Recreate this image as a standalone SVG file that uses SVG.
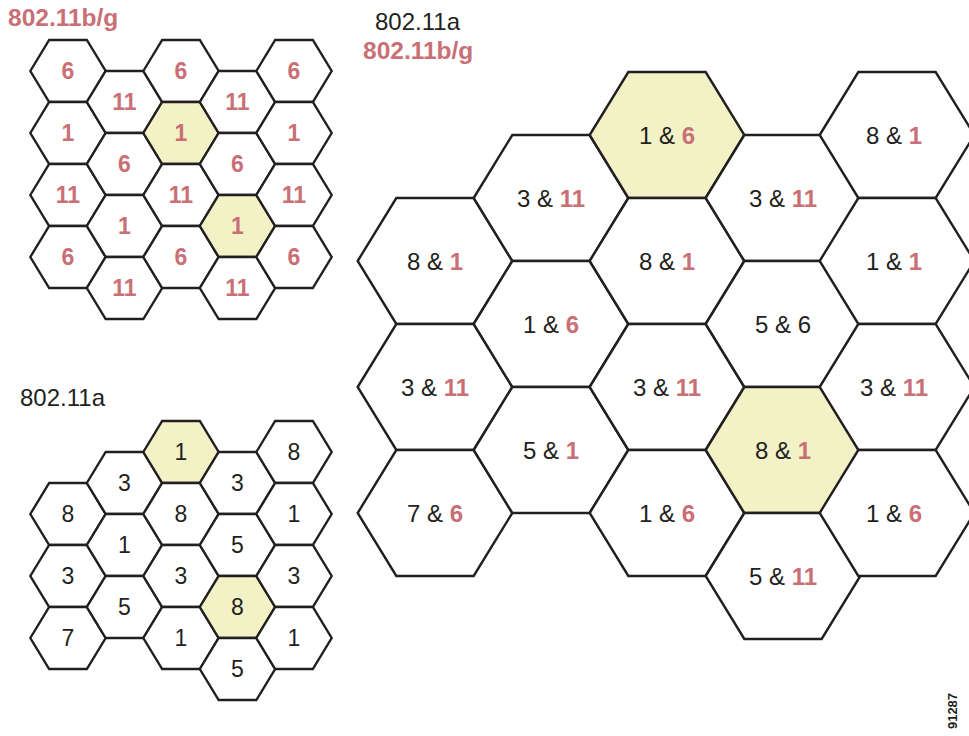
<svg xmlns="http://www.w3.org/2000/svg" xmlns:xlink="http://www.w3.org/1999/xlink" width="969" height="736" viewBox="0 0 969 736">
<style>
.h{fill:#ffffff;stroke:#231f20;stroke-width:2.4;stroke-linejoin:miter}
.y{fill:#f2f2c6}
text{font-family:"Liberation Sans",Arial,sans-serif;text-anchor:middle}
.r{fill:#c96f76;font-weight:bold}
.k{fill:#231f20}
.s{font-size:23px}
.b{font-size:24px}
.t{font-size:24px;text-anchor:start}
</style>
<defs>
<polygon id="hs" points="-37.67,0 -18.83,-31 18.83,-31 37.67,0 18.83,31 -18.83,31"/>
<polygon id="hb" points="-77.33,0 -38.67,-63 38.67,-63 77.33,0 38.67,63 -38.67,63"/>
</defs>
<rect width="969" height="736" fill="#ffffff"/>
<g id="titles">
<text class="t r" x="8" y="26" style="font-size:24.5px">802.11b/g</text>
<text class="t k" x="375" y="30">802.11a</text>
<text class="t r" x="363" y="59" style="font-size:24.5px">802.11b/g</text>
<text class="t k" x="20" y="406">802.11a</text>
<text class="k" x="957" y="711" transform="rotate(-90 957 711)" style="font-size:13px;font-weight:bold">91287</text>
</g>
<g id="grid-bg">
<g id="bg-0-0"><use xlink:href="#hs" class="h" x="68" y="71"/><text class="s r" x="68" y="79">6</text></g>
<g id="bg-0-1"><use xlink:href="#hs" class="h" x="68" y="133"/><text class="s r" x="68" y="141">1</text></g>
<g id="bg-0-2"><use xlink:href="#hs" class="h" x="68" y="195"/><text class="s r" x="68" y="203">11</text></g>
<g id="bg-0-3"><use xlink:href="#hs" class="h" x="68" y="257"/><text class="s r" x="68" y="265">6</text></g>
<g id="bg-1-0"><use xlink:href="#hs" class="h" x="124.5" y="102"/><text class="s r" x="124.5" y="110">11</text></g>
<g id="bg-1-1"><use xlink:href="#hs" class="h" x="124.5" y="164"/><text class="s r" x="124.5" y="172">6</text></g>
<g id="bg-1-2"><use xlink:href="#hs" class="h" x="124.5" y="226"/><text class="s r" x="124.5" y="234">1</text></g>
<g id="bg-1-3"><use xlink:href="#hs" class="h" x="124.5" y="288"/><text class="s r" x="124.5" y="296">11</text></g>
<g id="bg-2-0"><use xlink:href="#hs" class="h" x="181" y="71"/><text class="s r" x="181" y="79">6</text></g>
<g id="bg-2-1"><use xlink:href="#hs" class="h y" x="181" y="133"/><text class="s r" x="181" y="141">1</text></g>
<g id="bg-2-2"><use xlink:href="#hs" class="h" x="181" y="195"/><text class="s r" x="181" y="203">11</text></g>
<g id="bg-2-3"><use xlink:href="#hs" class="h" x="181" y="257"/><text class="s r" x="181" y="265">6</text></g>
<g id="bg-3-0"><use xlink:href="#hs" class="h" x="237.5" y="102"/><text class="s r" x="237.5" y="110">11</text></g>
<g id="bg-3-1"><use xlink:href="#hs" class="h" x="237.5" y="164"/><text class="s r" x="237.5" y="172">6</text></g>
<g id="bg-3-2"><use xlink:href="#hs" class="h y" x="237.5" y="226"/><text class="s r" x="237.5" y="234">1</text></g>
<g id="bg-3-3"><use xlink:href="#hs" class="h" x="237.5" y="288"/><text class="s r" x="237.5" y="296">11</text></g>
<g id="bg-4-0"><use xlink:href="#hs" class="h" x="294" y="71"/><text class="s r" x="294" y="79">6</text></g>
<g id="bg-4-1"><use xlink:href="#hs" class="h" x="294" y="133"/><text class="s r" x="294" y="141">1</text></g>
<g id="bg-4-2"><use xlink:href="#hs" class="h" x="294" y="195"/><text class="s r" x="294" y="203">11</text></g>
<g id="bg-4-3"><use xlink:href="#hs" class="h" x="294" y="257"/><text class="s r" x="294" y="265">6</text></g>
</g>
<g id="grid-a">
<g id="a-0-0"><use xlink:href="#hs" class="h" x="68" y="514"/><text class="s k" x="68" y="522">8</text></g>
<g id="a-0-1"><use xlink:href="#hs" class="h" x="68" y="576"/><text class="s k" x="68" y="584">3</text></g>
<g id="a-0-2"><use xlink:href="#hs" class="h" x="68" y="638"/><text class="s k" x="68" y="646">7</text></g>
<g id="a-1-0"><use xlink:href="#hs" class="h" x="124.5" y="483"/><text class="s k" x="124.5" y="491">3</text></g>
<g id="a-1-1"><use xlink:href="#hs" class="h" x="124.5" y="545"/><text class="s k" x="124.5" y="553">1</text></g>
<g id="a-1-2"><use xlink:href="#hs" class="h" x="124.5" y="607"/><text class="s k" x="124.5" y="615">5</text></g>
<g id="a-2-0"><use xlink:href="#hs" class="h y" x="181" y="452"/><text class="s k" x="181" y="460">1</text></g>
<g id="a-2-1"><use xlink:href="#hs" class="h" x="181" y="514"/><text class="s k" x="181" y="522">8</text></g>
<g id="a-2-2"><use xlink:href="#hs" class="h" x="181" y="576"/><text class="s k" x="181" y="584">3</text></g>
<g id="a-2-3"><use xlink:href="#hs" class="h" x="181" y="638"/><text class="s k" x="181" y="646">1</text></g>
<g id="a-3-0"><use xlink:href="#hs" class="h" x="237.5" y="483"/><text class="s k" x="237.5" y="491">3</text></g>
<g id="a-3-1"><use xlink:href="#hs" class="h" x="237.5" y="545"/><text class="s k" x="237.5" y="553">5</text></g>
<g id="a-3-2"><use xlink:href="#hs" class="h y" x="237.5" y="607"/><text class="s k" x="237.5" y="615">8</text></g>
<g id="a-3-3"><use xlink:href="#hs" class="h" x="237.5" y="669"/><text class="s k" x="237.5" y="677">5</text></g>
<g id="a-4-0"><use xlink:href="#hs" class="h" x="294" y="452"/><text class="s k" x="294" y="460">8</text></g>
<g id="a-4-1"><use xlink:href="#hs" class="h" x="294" y="514"/><text class="s k" x="294" y="522">1</text></g>
<g id="a-4-2"><use xlink:href="#hs" class="h" x="294" y="576"/><text class="s k" x="294" y="584">3</text></g>
<g id="a-4-3"><use xlink:href="#hs" class="h" x="294" y="638"/><text class="s k" x="294" y="646">1</text></g>
</g>
<g id="grid-combined">
<g id="c-0-0"><use xlink:href="#hb" class="h" x="435" y="261"/><text class="b k" x="435" y="269.5">8 &amp; <tspan class="r">1</tspan></text></g>
<g id="c-0-1"><use xlink:href="#hb" class="h" x="435" y="387"/><text class="b k" x="435" y="395.5">3 &amp; <tspan class="r">11</tspan></text></g>
<g id="c-0-2"><use xlink:href="#hb" class="h" x="435" y="513"/><text class="b k" x="435" y="521.5">7 &amp; <tspan class="r">6</tspan></text></g>
<g id="c-1-0"><use xlink:href="#hb" class="h" x="551" y="198"/><text class="b k" x="551" y="206.5">3 &amp; <tspan class="r">11</tspan></text></g>
<g id="c-1-1"><use xlink:href="#hb" class="h" x="551" y="324"/><text class="b k" x="551" y="332.5">1 &amp; <tspan class="r">6</tspan></text></g>
<g id="c-1-2"><use xlink:href="#hb" class="h" x="551" y="450"/><text class="b k" x="551" y="458.5">5 &amp; <tspan class="r">1</tspan></text></g>
<g id="c-2-0"><use xlink:href="#hb" class="h y" x="667" y="135"/><text class="b k" x="667" y="143.5">1 &amp; <tspan class="r">6</tspan></text></g>
<g id="c-2-1"><use xlink:href="#hb" class="h" x="667" y="261"/><text class="b k" x="667" y="269.5">8 &amp; <tspan class="r">1</tspan></text></g>
<g id="c-2-2"><use xlink:href="#hb" class="h" x="667" y="387"/><text class="b k" x="667" y="395.5">3 &amp; <tspan class="r">11</tspan></text></g>
<g id="c-2-3"><use xlink:href="#hb" class="h" x="667" y="513"/><text class="b k" x="667" y="521.5">1 &amp; <tspan class="r">6</tspan></text></g>
<g id="c-3-0"><use xlink:href="#hb" class="h" x="783" y="198"/><text class="b k" x="783" y="206.5">3 &amp; <tspan class="r">11</tspan></text></g>
<g id="c-3-1"><use xlink:href="#hb" class="h" x="783" y="324"/><text class="b k" x="783" y="332.5">5 &amp; 6</text></g>
<g id="c-3-2"><use xlink:href="#hb" class="h y" x="783" y="450"/><text class="b k" x="783" y="458.5">8 &amp; <tspan class="r">1</tspan></text></g>
<g id="c-3-3"><use xlink:href="#hb" class="h" x="783" y="576"/><text class="b k" x="783" y="584.5">5 &amp; <tspan class="r">11</tspan></text></g>
<g id="c-4-0"><use xlink:href="#hb" class="h" x="897" y="135"/><text class="b k" x="894" y="143.5">8 &amp; <tspan class="r">1</tspan></text></g>
<g id="c-4-1"><use xlink:href="#hb" class="h" x="897" y="261"/><text class="b k" x="894" y="269.5">1 &amp; <tspan class="r">1</tspan></text></g>
<g id="c-4-2"><use xlink:href="#hb" class="h" x="897" y="387"/><text class="b k" x="894" y="395.5">3 &amp; <tspan class="r">11</tspan></text></g>
<g id="c-4-3"><use xlink:href="#hb" class="h" x="897" y="513"/><text class="b k" x="894" y="521.5">1 &amp; <tspan class="r">6</tspan></text></g>
</g>
</svg>
